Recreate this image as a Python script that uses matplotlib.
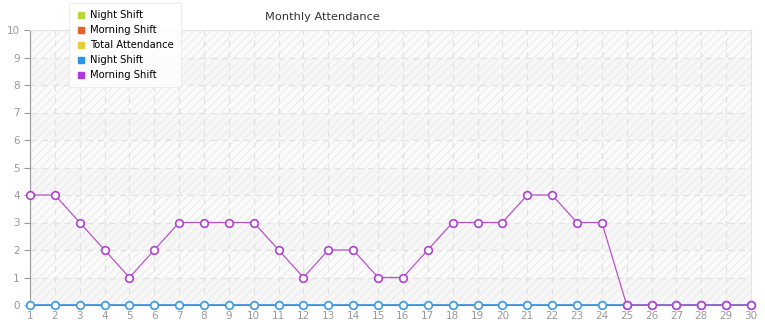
import numpy as np
import matplotlib.pyplot as plt
from matplotlib.lines import Line2D

days = list(range(1, 31))
night_shift = [0] * 30
morning_shift = [4, 4, 3, 2, 1, 2, 3, 3, 3, 3, 2, 1, 2, 2, 1, 1, 2, 3, 3, 3, 4, 4, 3, 3, 0, 0, 0, 0, 0, 0]
legend_names = ["Night Shift", "Morning Shift", "Total Attendance", "Night Shift", "Morning Shift"]
legend_colors = ["#b8d832", "#e0622e", "#e2d030", "#3092e0", "#b236e0"]

plt.rcParams['font.family'] = ['DejaVu Sans']
fig = plt.figure(figsize=(7.65, 3.2), dpi=100)
ax = fig.add_axes([30/765, 15/320, 721/765, 275/320])

# banded, hatched background
for i in range(10):
    c = "#f7f7f7" if i % 2 == 0 else "#fbfbfb"
    ax.axhspan(i, i + 1, facecolor=c, edgecolor="#eeeeee", hatch="////", lw=0, zorder=0)

ax.grid(True, color="#e2e2e2", linestyle=(0, (5, 4)), lw=0.9, zorder=1)

ax.plot(days, night_shift, color="#3b8fd6", lw=1.2, marker="o", ms=5.5,
        mfc="white", mec="#3b9ae0", mew=1.2, zorder=3, clip_on=False)
ax.plot(days, morning_shift, color="#b555c5", lw=0.9, marker="o", ms=5.5,
        mfc="white", mec="#b040d0", mew=1.2, zorder=4, clip_on=False)

ax.set_xlim(1, 30)
ax.set_ylim(0, 10)
ax.set_xticks(days)
ax.set_yticks(range(0, 11))
ax.tick_params(colors="#999999", labelsize=7.5, length=4)
ax.tick_params(axis="x", length=0, pad=4)
for s in ["top", "right"]:
    ax.spines[s].set_color("#e4e4e4")
ax.spines["left"].set_color("#999999")
ax.spines["bottom"].set_color("#3b8fd6")

fig.text(322/765, 1 - 17/320, "Monthly Attendance", ha="center", va="center",
         fontsize=8.2, color="#333333")

handles = [Line2D([], [], ls="", marker="s", ms=4, color=c) for c in legend_colors]
leg = fig.legend(handles, legend_names, loc="upper left", bbox_to_anchor=(64/765, 1 + 2/320),
                 fontsize=7.2, frameon=True, handletextpad=0.4, labelspacing=0.5,
                 borderpad=0.7, handlelength=1.0, fancybox=False, shadow=False)
leg.get_frame().set_edgecolor("#e8e8e8")
leg.get_frame().set_linewidth(0.8)
leg.set_zorder(10)

fig.savefig("out.png", dpi=100)
